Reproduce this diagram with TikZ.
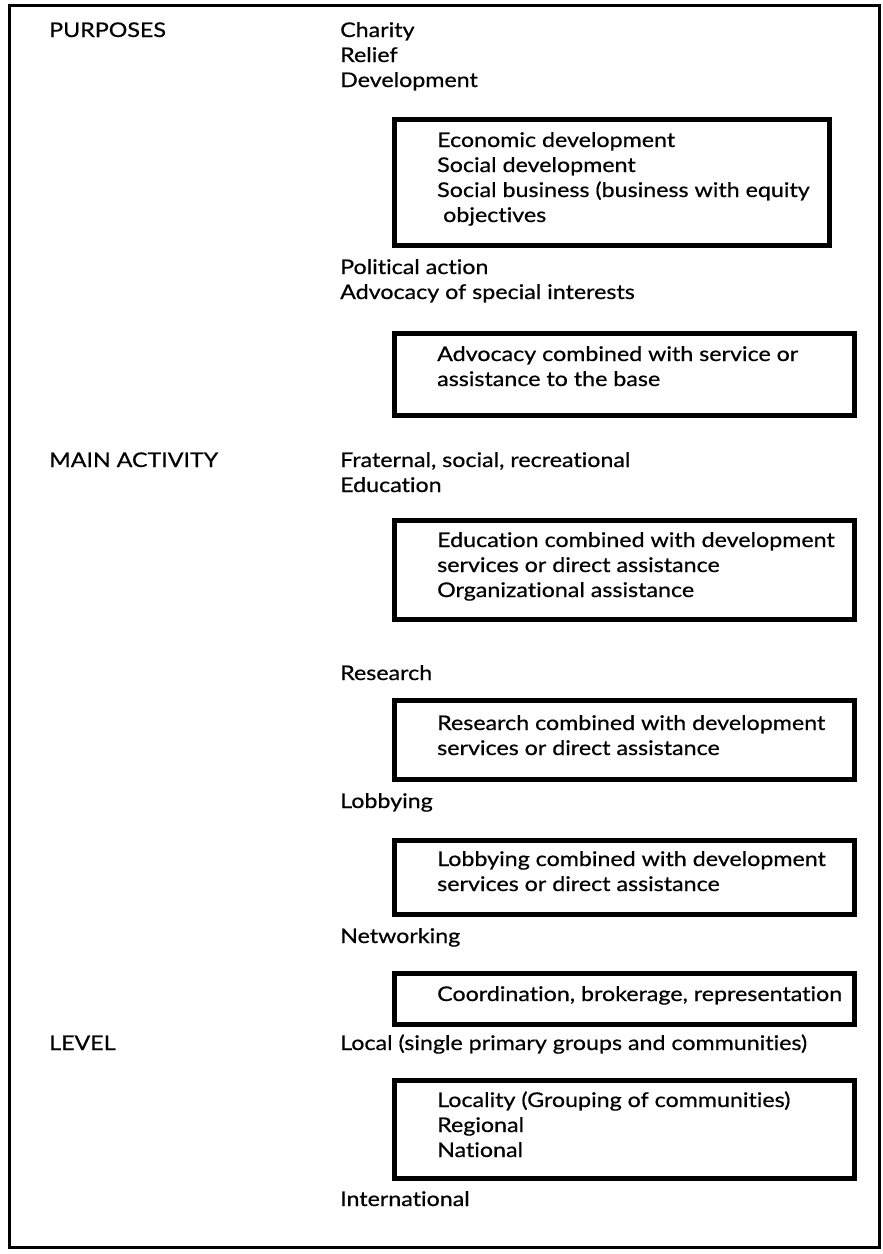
\documentclass[tikz,border=0pt]{standalone}
\usepackage{fontspec}
\setmainfont{Lato}[FakeStretch=1.15, FakeBold=0.6, Ligatures=NoCommon]
\begin{document}
\begin{tikzpicture}[x=1pt,y=-1pt,
  lbl/.style={anchor=base west, inner sep=0pt, font=\fontsize{20.2}{25}\selectfont},
  head/.style={lbl},
  boxframe/.style={draw, line width=4.5pt, anchor=north west, inner sep=0pt},
  outerframe/.style={draw, line width=3pt, anchor=north west, inner sep=0pt}]
\useasboundingbox (0,0) rectangle (883,1254);
\fill[white] (0,0) rectangle (883,1254);
% outer frame
\node[outerframe, minimum width=870pt, minimum height=1242pt] (frame) at (8,4) {};

% ---- Purposes ----
\node[head] (purposes) at (49,37) {PURPOSES};
\node[lbl] (charity) at (340,37) {Charity};
\node[lbl] (relief) at (340,62) {Relief};
\node[lbl] (devel) at (340,87) {Development};

\node[boxframe, minimum width=435pt, minimum height=126pt] (boxA) at (392,117) {};
\node[lbl] (econ) at (437,147) {Economic development};
\node[lbl] (socdev) at (437,172) {Social development};
\node[lbl] (socbus) at (437,197) {Social business (business with equity};
\node[lbl] (obj) at (443,222) {objectives};

\node[lbl] (polit) at (340,274) {Political action};
\node[lbl] (advoc) at (340,299) {Advocacy of special interests};

\node[boxframe, minimum width=460pt, minimum height=82pt] (boxB) at (392,331) {};
\node[lbl] (advcomb) at (437,361) {Advocacy combined with service or};
\node[lbl] (advbase) at (437,386) {assistance to the base};

% ---- Main activity ----
\node[head] (mainact) at (49,467) {MAIN ACTIVITY};
\node[lbl] (frat) at (340,467) {Fraternal, social, recreational};
\node[lbl] (educ) at (340,492) {Education};

\node[boxframe, minimum width=460pt, minimum height=99pt] (boxC) at (392,518) {};
\node[lbl] (educomb) at (437,547) {Education combined with development};
\node[lbl] (edusrv) at (437,572) {services or direct assistance};
\node[lbl] (orgass) at (437,597) {Organizational assistance};

\node[lbl] (research) at (340,680) {Research};
\node[boxframe, minimum width=460pt, minimum height=79pt] (boxD) at (392,698) {};
\node[lbl] (rescomb) at (437,730) {Research combined with development};
\node[lbl] (ressrv) at (437,755) {services or direct assistance};

\node[lbl] (lobby) at (340,808) {Lobbying};
\node[boxframe, minimum width=460pt, minimum height=74pt] (boxE) at (392,838) {};
\node[lbl] (lobcomb) at (437,866) {Lobbying combined with development};
\node[lbl] (lobsrv) at (437,891) {services or direct assistance};

\node[lbl] (network) at (340,943) {Networking};
\node[boxframe, minimum width=460pt, minimum height=51pt] (boxF) at (392,971) {};
\node[lbl] (coord) at (437,1001) {Coordination, brokerage, representation};

% ---- Level ----
\node[head] (level) at (49,1050) {LEVEL};
\node[lbl] (local) at (340,1050) {Local (single primary groups and communities)};
\node[boxframe, minimum width=460pt, minimum height=98pt] (boxG) at (392,1078) {};
\node[lbl] (locality) at (437,1107) {Locality (Grouping of communities)};
\node[lbl] (regional) at (437,1132) {Regional};
\node[lbl] (national) at (437,1157) {National};

\node[lbl] (intl) at (340,1206) {International};
\end{tikzpicture}
\end{document}
